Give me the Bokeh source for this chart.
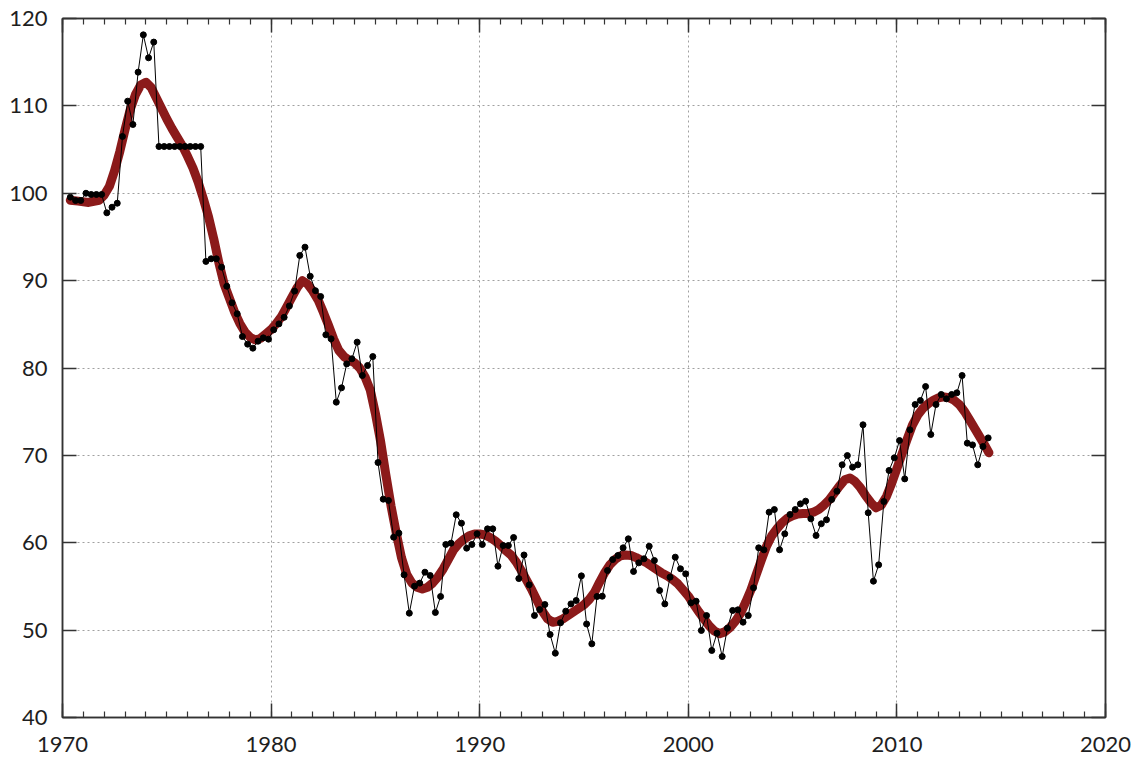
import numpy as np
from bokeh.plotting import figure
from bokeh.models import LinearAxis, SingleIntervalTicker, Range1d, ColumnDataSource, CustomLabelingPolicy
from bokeh.embed import file_html
from bokeh.resources import INLINE

# Quarterly observations (first quarter plotted at 1970.375)
start_year = 1970.375
values = [
    99.55, 99.17, 99.17, 100.0, 99.86, 99.86, 99.86, 97.76, 98.4, 98.86,
    106.5, 110.54, 107.87, 113.86, 118.13, 115.5, 117.3,
    105.35, 105.35, 105.35, 105.35, 105.35, 105.35, 105.35, 105.35, 105.35,
    92.2, 92.5, 92.5, 91.54, 89.36, 87.46, 86.2, 83.6, 82.73, 82.27,
    83.07, 83.45, 83.3, 84.37, 85.05, 85.8, 87.1, 88.8, 92.88, 93.83,
    90.5, 88.85, 88.18, 83.8, 83.34, 76.09, 77.73, 80.47, 81.05, 82.96,
    79.14, 80.29, 81.31, 69.18, 64.99, 64.84, 60.64, 61.1, 56.33, 51.94,
    55.03, 55.38, 56.63, 56.25, 52.02, 53.85, 59.8, 59.95, 63.2, 62.24,
    59.38, 59.8, 61.02, 59.8, 61.59, 61.59, 57.32, 59.68, 59.68, 60.6,
    55.9, 58.6, 55.18, 51.67, 52.36, 52.93, 49.5, 47.36, 50.84, 52.17,
    53.0, 53.39, 56.21, 50.7, 48.43, 53.85, 53.88, 56.82, 58.08, 58.54,
    59.42, 60.45, 56.71, 57.7, 58.16, 59.6, 57.97, 54.54, 53.0, 56.06,
    58.35, 57.02, 56.44, 53.12, 53.31, 49.96, 51.67, 47.67, 49.65, 46.98,
    50.22, 52.25, 52.32, 50.91, 51.67, 54.84, 59.42, 59.19, 63.5, 63.8,
    59.19, 61.02, 63.23, 63.8, 64.45, 64.76, 62.74, 60.83, 62.17, 62.63,
    64.95, 65.9, 68.92, 69.98, 68.65, 68.92, 73.5, 63.43, 55.6, 57.47,
    64.72, 68.27, 69.72, 71.7, 67.31, 72.92, 75.82, 76.28, 77.88, 72.39,
    75.82, 76.97, 76.47, 76.97, 77.16, 79.14, 71.4, 71.2, 68.92, 71.01,
    72.0,
]
years = [start_year + 0.25 * i for i in range(len(values))]

# Smoothed trend
trend_years = [1970.375, 1970.75, 1971.25, 1971.75] + \
    [1972.0 + 0.25 * k for k in range(170)] + [2014.41]
trend = [
    99.2, 99.1, 98.95, 99.2,
    99.8, 100.8, 102.6, 104.8,
    107.3, 109.6, 111.3, 112.4,
    112.7, 112.1, 110.9, 109.7,
    108.5, 107.4, 106.4, 105.4,
    104.2, 102.9, 101.3, 99.4,
    97.3, 94.8, 92.0, 89.6,
    88.0, 86.4, 85.1, 84.1,
    83.5, 83.2, 83.4, 83.9,
    84.4, 85.1, 85.9, 87.0,
    88.1, 89.2, 90.0, 89.6,
    88.8, 87.8, 86.4, 84.9,
    83.3, 82.0, 81.3, 80.9,
    80.6, 80.0, 79.0, 77.5,
    74.8, 71.6, 67.8, 64.2,
    61.1, 58.3, 56.4, 55.4,
    54.9, 54.7, 54.9, 55.4,
    56.1, 57.0, 58.1, 59.2,
    59.9, 60.4, 60.8, 61.0,
    61.0, 60.9, 60.6, 60.2,
    59.7, 59.1, 58.6, 57.8,
    56.8, 55.7, 54.6, 53.4,
    52.2, 51.3, 50.9, 51.0,
    51.3, 51.7, 52.1, 52.5,
    52.9, 53.5, 54.3, 55.5,
    56.6, 57.5, 58.1, 58.5,
    58.6, 58.55, 58.3, 58.0,
    57.7, 57.3, 56.9, 56.5,
    56.2, 55.8, 55.3, 54.6,
    53.9, 53.0, 52.1, 51.3,
    50.5, 49.9, 49.6, 49.8,
    50.3, 51.0, 51.9, 53.2,
    54.6, 56.3, 58.0, 59.6,
    60.8, 61.6, 62.3, 62.8,
    63.1, 63.3, 63.35, 63.35,
    63.5, 63.8, 64.3, 64.9,
    65.7, 66.5, 67.2, 67.4,
    67.0, 66.3, 65.4, 64.6,
    64.0, 64.3, 65.3, 66.8,
    68.5, 70.2, 71.9, 73.5,
    74.6, 75.4, 75.9, 76.3,
    76.6, 76.7, 76.6, 76.3,
    75.8, 75.0, 74.0, 73.0,
    72.0, 71.0,
    70.3,
]

FONT = "Lato"
LABEL_SIZE = "22px"
TEXT_COLOR = "#1e1e1e"
AXIS_COLOR = "#333333"

p = figure(
    frame_width=1043, frame_height=699,
    x_range=Range1d(1970, 2020), y_range=Range1d(40, 120),
    output_backend="svg", toolbar_location=None,
    min_border_left=62, min_border_right=33, min_border_top=18, min_border_bottom=40,
    background_fill_color="white", border_fill_color="white",
)
p.outline_line_color = AXIS_COLOR
p.outline_line_width = 1.5

p.xaxis.ticker = SingleIntervalTicker(interval=10, num_minor_ticks=10)
p.yaxis.ticker = SingleIntervalTicker(interval=10, num_minor_ticks=0)

for ax in (p.xaxis[0], p.yaxis[0]):
    ax.axis_line_color = AXIS_COLOR
    ax.axis_line_width = 1.5
    ax.major_tick_in = 14
    ax.major_tick_out = 0
    ax.minor_tick_in = 6
    ax.minor_tick_out = 0
    ax.major_tick_line_color = AXIS_COLOR
    ax.minor_tick_line_color = AXIS_COLOR
    ax.major_tick_line_width = 1.5
    ax.minor_tick_line_width = 1.2
    ax.major_label_text_font = FONT
    ax.major_label_text_font_size = LABEL_SIZE
    ax.major_label_text_color = TEXT_COLOR
p.xaxis[0].major_label_standoff = 19
p.yaxis[0].major_label_standoff = 15

# mirrored axes (top / right) with ticks only
no_labels = CustomLabelingPolicy(code="return new Set()")
top = LinearAxis(ticker=SingleIntervalTicker(interval=10, num_minor_ticks=10))
right = LinearAxis(ticker=SingleIntervalTicker(interval=10, num_minor_ticks=0))
for ax in (top, right):
    ax.axis_line_color = AXIS_COLOR
    ax.axis_line_width = 1.5
    ax.major_tick_in = 14
    ax.major_tick_out = 0
    ax.minor_tick_in = 6
    ax.minor_tick_out = 0
    ax.major_tick_line_color = AXIS_COLOR
    ax.minor_tick_line_color = AXIS_COLOR
    ax.major_tick_line_width = 1.5
    ax.minor_tick_line_width = 1.2
    ax.major_label_policy = no_labels
    ax.major_label_standoff = 0
p.add_layout(top, "above")
p.add_layout(right, "right")

for g in (p.xgrid[0], p.ygrid[0]):
    g.grid_line_color = "#a0a0a0"
    g.grid_line_dash = "2 3"
    g.grid_line_width = 1

trend_src = ColumnDataSource(dict(x=trend_years, y=trend))
data_src = ColumnDataSource(dict(x=years, y=values))

p.line("x", "y", source=trend_src, line_color="#8b1a1a", line_width=9, line_join="round", line_cap="round")
p.line("x", "y", source=data_src, line_color="black", line_width=1)
p.scatter("x", "y", source=data_src, size=6, fill_color="black", line_color="black")

open("out.html", "w").write(file_html(p, INLINE))
